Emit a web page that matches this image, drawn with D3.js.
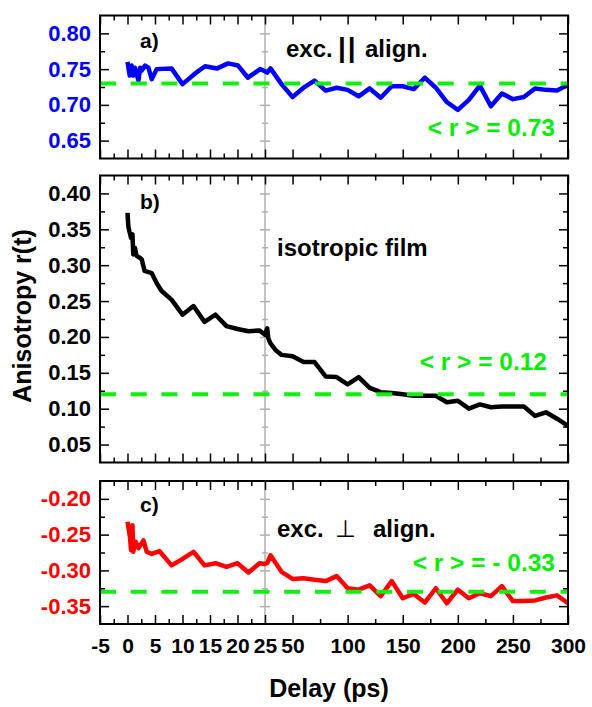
<!DOCTYPE html>
<html lang="en">
<head>
<meta charset="UTF-8">
<title>Anisotropy</title>
<script src="https://d3js.org/d3.v7.min.js"></script>
<style>
  body { margin: 0; background: #fff; }
  svg text { font-family: "Liberation Sans", Arial, sans-serif; font-weight: bold; }
</style>
</head>
<body>
<div id="chart"></div>
<script>
// panel a) excitation parallel to alignment
const timeA = [0, 0.4, 0.75, 1.05, 1.35, 1.65, 2.0, 2.3, 2.6, 3.2, 3.8, 4.4, 5.3, 8, 10, 12.3, 14.1, 16.3, 18.3, 20.1, 21.9, 24.1, 25, 27, 30, 40,
  50, 60, 70, 80, 90, 100, 110, 120, 130, 140, 150, 160, 170, 180, 190, 200, 210, 220, 230, 240, 250, 260, 270, 280, 290, 300];
const anisA = [0.760, 0.741, 0.755, 0.741, 0.752, 0.743, 0.734, 0.752, 0.748, 0.755, 0.752, 0.736, 0.750, 0.751, 0.729, 0.744, 0.754, 0.751, 0.758, 0.755, 0.738, 0.750, 0.747, 0.745, 0.751, 0.729,
  0.711, 0.724, 0.734, 0.720, 0.724, 0.721, 0.712, 0.723, 0.710, 0.726, 0.726, 0.722, 0.738, 0.724, 0.704, 0.693, 0.707, 0.727, 0.698, 0.716, 0.708, 0.711, 0.723, 0.721, 0.720, 0.728];

// panel b) isotropic film
const timeB = [0, 0.15, 0.35, 0.65, 0.9, 1.05, 1.35, 1.65, 2.3, 2.6, 3.1, 4.4, 5.3, 6.2, 8, 10, 12, 14, 16, 18, 20, 22, 24, 25, 27, 28, 30, 35, 40,
  50, 60, 70, 80, 90, 100, 110, 120, 130, 140, 150, 160, 170, 180, 190, 200, 210, 220, 230, 240, 250, 260, 270, 280, 290, 300];
const anisB = [0.373, 0.354, 0.347, 0.338, 0.343, 0.315, 0.324, 0.313, 0.310, 0.308, 0.292, 0.289, 0.275, 0.264, 0.252, 0.231, 0.243, 0.221, 0.231, 0.215, 0.211, 0.208, 0.209, 0.203, 0.212, 0.198, 0.191, 0.181, 0.175,
  0.173, 0.165, 0.165, 0.145, 0.144, 0.134, 0.144, 0.129, 0.123, 0.122, 0.120, 0.118, 0.118, 0.118, 0.109, 0.111, 0.100, 0.106, 0.102, 0.103, 0.103, 0.103, 0.090, 0.095, 0.086, 0.076];

// panel c) excitation perpendicular to alignment
const timeC = [0, 0.45, 0.65, 0.9, 1.05, 1.5, 2.0, 2.9, 3.5, 4.4, 5.8, 8, 10, 12, 14, 16, 18, 20, 22, 24, 25, 27, 30, 40,
  50, 60, 70, 80, 90, 100, 110, 120, 130, 140, 150, 160, 170, 180, 190, 200, 210, 220, 230, 240, 250, 260, 270, 280, 290, 300];
const anisC = [-0.232, -0.253, -0.272, -0.237, -0.274, -0.260, -0.269, -0.258, -0.274, -0.277, -0.273, -0.293, -0.284, -0.274, -0.293, -0.290, -0.295, -0.290, -0.303, -0.290, -0.291, -0.290, -0.279, -0.302,
  -0.312, -0.311, -0.313, -0.315, -0.308, -0.325, -0.327, -0.321, -0.336, -0.315, -0.339, -0.333, -0.345, -0.325, -0.346, -0.327, -0.339, -0.332, -0.336, -0.322, -0.343, -0.343, -0.342, -0.338, -0.335, -0.346];

const meanA = 0.73, meanB = 0.12, meanC = -0.33;

// broken x axis: -5..25 stretched, 25..300 compressed
const xBreaks = [-5, 25, 300];
const xTickMajor = [-5, 0, 5, 10, 15, 20, 25, 50, 100, 150, 200, 250, 300];
const xTickMinor = [-2.5, 2.5, 7.5, 12.5, 17.5, 22.5, 75, 125, 175, 225, 275];

const yDomainA = [0.625, 0.825], yMajorA = [0.65, 0.70, 0.75, 0.80], yMinorA = [0.675, 0.725, 0.775];
const yDomainB = [0.025, 0.425], yMajorB = [0.05, 0.10, 0.15, 0.20, 0.25, 0.30, 0.35, 0.40],
      yMinorB = [0.075, 0.125, 0.175, 0.225, 0.275, 0.325, 0.375];
const yDomainC = [-0.375, -0.175], yMajorC = [-0.35, -0.30, -0.25, -0.20], yMinorC = [-0.325, -0.275, -0.225];

const width = 592, height = 707;
const left = 100, right = 568;
const green = "#11ee11";

const svg = d3.select("#chart").append("svg")
    .attr("width", width)
    .attr("height", height);

const x = d3.scaleLinear().domain(xBreaks).range([left, 265, right]);

const panels = [
  {label: "a)", time: timeA, value: anisA, mean: meanA, color: "#0000ff",
   domain: yDomainA, top: 15.5, bottom: 158.5, majors: yMajorA, minors: yMinorA,
   labelY: 48, meanText: "< r > = 0.73", meanX: 555, meanY: 136},
  {label: "b)", time: timeB, value: anisB, mean: meanB, color: "#000000",
   domain: yDomainB, top: 175.5, bottom: 462.5, majors: yMajorB, minors: yMinorB,
   labelY: 209, meanText: "< r > = 0.12", meanX: 547, meanY: 370},
  {label: "c)", time: timeC, value: anisC, mean: meanC, color: "#ff0000",
   domain: yDomainC, top: 481, bottom: 624, majors: yMajorC, minors: yMinorC,
   labelY: 512, meanText: "< r > = - 0.33", meanX: 555, meanY: 571}
];

const yFmt = v => v.toFixed(2);
const xFmt = v => String(v);

function styleAxis(a, size) {
  a.select(".domain").remove();
  a.selectAll("line").attr("stroke", "#000").attr("stroke-width", 1.5);
  a.selectAll("text").attr("font-size", size).attr("font-family", null);
}

panels.forEach((p, i) => {
  const y = d3.scaleLinear().domain(p.domain).range([p.bottom, p.top]);
  const g = svg.append("g");

  // grey line at the axis break, with its own ticks on both sides
  g.append("line")
      .attr("x1", x(25)).attr("x2", x(25))
      .attr("y1", p.top).attr("y2", p.bottom)
      .attr("stroke", "#b0b0b0").attr("stroke-width", 1.5);
  [[d3.axisLeft, p.majors, 5], [d3.axisRight, p.majors, 5], [d3.axisLeft, p.minors, 3], [d3.axisRight, p.minors, 3]]
    .forEach(([ax, vals, len]) => {
      const a = g.append("g").attr("transform", `translate(${x(25)},0)`)
          .call(ax(y).tickValues(vals).tickSize(len).tickFormat(""));
      a.select(".domain").remove();
      a.selectAll("line").attr("stroke", "#b0b0b0").attr("stroke-width", 1.5);
    });

  // data trace
  const line = d3.line().x(d => x(d[0])).y(d => y(d[1]));
  g.append("path")
      .datum(d3.zip(p.time, p.value))
      .attr("d", line)
      .attr("fill", "none")
      .attr("stroke", p.color)
      .attr("stroke-width", 4.5)
      .attr("stroke-linejoin", "round");

  // mean value
  g.append("line")
      .attr("x1", x(-5)).attr("x2", x(300))
      .attr("y1", y(p.mean)).attr("y2", y(p.mean))
      .attr("stroke", green).attr("stroke-width", 4)
      .attr("stroke-dasharray", "16 14.7");

  // left axis with coloured labels
  const yl = g.append("g").attr("transform", `translate(${left},0)`)
      .call(d3.axisLeft(y).tickValues(p.majors).tickSize(-9).tickPadding(9).tickFormat(yFmt));
  styleAxis(yl, 22);
  yl.selectAll("text").attr("fill", p.color);

  // remaining ticks, all pointing inward, no labels
  const plain = [
    [d3.axisLeft(y), `translate(${left},0)`, p.minors, 5],
    [d3.axisRight(y), `translate(${right},0)`, p.majors, 9],
    [d3.axisRight(y), `translate(${right},0)`, p.minors, 5],
    [d3.axisTop(x), `translate(0,${p.top})`, xTickMajor, 9],
    [d3.axisTop(x), `translate(0,${p.top})`, xTickMinor, 5],
    [d3.axisBottom(x), `translate(0,${p.bottom})`, xTickMinor, 5]
  ];
  if (i !== 2) plain.push([d3.axisBottom(x), `translate(0,${p.bottom})`, xTickMajor, 9]);
  plain.forEach(([ax, tr, vals, len]) => {
    const a = g.append("g").attr("transform", tr)
        .call(ax.tickValues(vals).tickSize(-len).tickFormat(""));
    styleAxis(a, 21);
  });

  // labelled delay axis on the bottom panel
  if (i === 2) {
    const xb = g.append("g").attr("transform", `translate(0,${p.bottom})`)
        .call(d3.axisBottom(x).tickValues(xTickMajor).tickSize(-9).tickPadding(14).tickFormat(xFmt));
    styleAxis(xb, 21);
    xb.selectAll("text").attr("fill", "#000");
  }

  // frame
  g.append("rect")
      .attr("x", left).attr("y", p.top)
      .attr("width", right - left).attr("height", p.bottom - p.top)
      .attr("fill", "none").attr("stroke", "#000").attr("stroke-width", 2);

  // panel letter and mean value text
  g.append("text").attr("x", 140).attr("y", p.labelY)
      .attr("font-size", 21).text(p.label);
  g.append("text").attr("x", p.meanX).attr("y", p.meanY)
      .attr("text-anchor", "end").attr("font-size", 24.5)
      .attr("fill", "#00ee00").text(p.meanText);
});

// annotations
svg.append("text").attr("x", 286).attr("y", 57).attr("font-size", 24).text("exc.");
svg.append("text").attr("x", 338).attr("y", 57).attr("font-size", 28)
    .attr("letter-spacing", 2).text("||");
svg.append("text").attr("x", 365).attr("y", 57).attr("font-size", 24).text("align.");

svg.append("text").attr("x", 277).attr("y", 256).attr("font-size", 24).text("isotropic film");

svg.append("text").attr("x", 277).attr("y", 537).attr("font-size", 24).text("exc.");
svg.append("text").attr("x", 335).attr("y", 537).attr("font-size", 24)
    .style("font-family", "'DejaVu Sans'").style("font-weight", "normal").text("\u22A5");
svg.append("text").attr("x", 373).attr("y", 537).attr("font-size", 24).text("align.");

// axis titles
svg.append("text")
    .attr("transform", "translate(31,316) rotate(-90)")
    .attr("text-anchor", "middle")
    .attr("font-size", 25)
    .text("Anisotropy r(t)");

svg.append("text")
    .attr("x", 329).attr("y", 697)
    .attr("text-anchor", "middle")
    .attr("font-size", 25)
    .text("Delay (ps)");
</script>
</body>
</html>
